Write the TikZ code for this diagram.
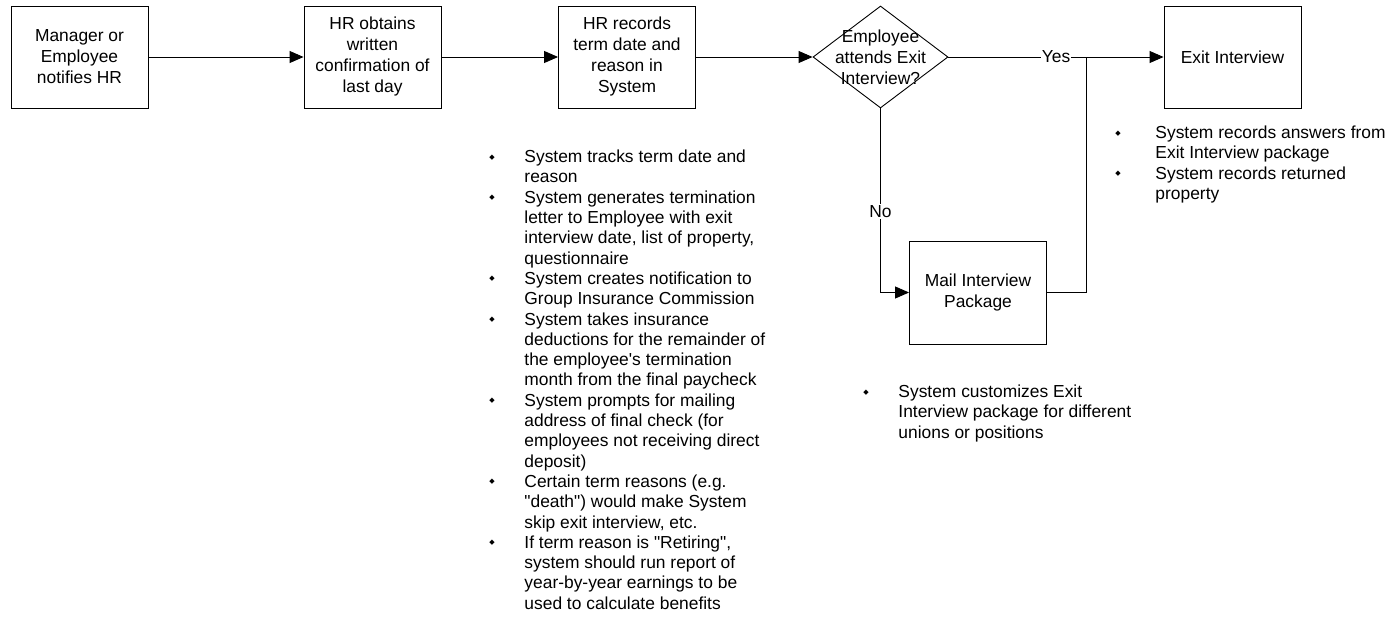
\documentclass[tikz,border=0pt]{standalone}
\usepackage{fontspec}
\setmainfont{Liberation Sans}
\newfontfamily\exitsymfont{DejaVu Sans}
\usetikzlibrary{arrows.meta,shapes.geometric}
\newcommand{\exitbullet}{\raisebox{3.5pt}{\exitsymfont\fontsize{7}{7}\selectfont ◆}}
\tikzset{
  exit flow/.style={
    x=1pt, y=-1pt, line width=0.9pt,
    >={Triangle[length=14pt,width=12pt]},
    every node/.style={font=\fontsize{17.4}{21}\selectfont}
  },
  exit step/.style={draw, minimum width=137pt, minimum height=102pt,
    align=center, inner sep=0pt},
  exit choice/.style={draw, diamond, minimum width=135pt,
    minimum height=102pt, inner sep=0pt},
  exit tag/.style={fill=white, inner sep=1pt},
  exit notes/.style={anchor=north west, inner sep=0pt,
    font=\fontsize{17.4}{20.3}\selectfont}
}

\begin{document}
\begin{tikzpicture}[exit flow]
    \useasboundingbox (0,0) rectangle (1389,626);
    % main line
    \node[exit step] (notify) at (79.5,57) {Manager or\\Employee\\notifies HR};
    \node[exit step] (obtain) at (372.5,57) {HR obtains\\written\\confirmation of\\last day};
    \node[exit step] (record) at (627,57) {HR records\\term date and\\reason in\\System};
    \node[exit choice, label={[align=center]center:Employee\\attends Exit\\Interview?}]
      (attend) at (880.5,57) {};
    \node[exit step] (interview) at (1232.5,57) {Exit Interview};
    \node[exit step, minimum height=103pt] (mail) at (978,292.5) {Mail Interview\\Package};
    \coordinate (join) at (1086,57);

    \draw[->] (notify) -- (obtain);
    \draw[->] (obtain) -- (record);
    \draw[->] (record) -- (attend);
    \draw[->] (attend) -- node[exit tag] {Yes} (interview);
    \draw[->] (attend) |- node[exit tag, pos=0.28] {No} (mail);
    \draw (mail) -| (join);

    % notes
    \node[exit notes] (recordNotes) at (489,148) {%
      \begin{tabular}{@{}p{35pt}@{}l@{}}
        \exitbullet & System tracks term date and\\
          & reason\\
        \exitbullet & System generates termination\\
          & letter to Employee with exit\\
          & interview date, list of property,\\
          & questionnaire\\
        \exitbullet & System creates notification to\\
          & Group Insurance Commission\\
        \exitbullet & System takes insurance\\
          & deductions for the remainder of\\
          & the employee\textquotesingle s termination\\
          & month from the final paycheck\\
        \exitbullet & System prompts for mailing\\
          & address of final check (for\\
          & employees not receiving direct\\
          & deposit)\\
        \exitbullet & Certain term reasons (e.g.\\
          & \textquotedbl death\textquotedbl) would make System\\
          & skip exit interview, etc.\\
        \exitbullet & If term reason is \textquotedbl Retiring\textquotedbl,\\
          & system should run report of\\
          & year-by-year earnings to be\\
          & used to calculate benefits
      \end{tabular}};
    \node[exit notes] (mailNotes) at (863,383) {%
      \begin{tabular}{@{}p{35pt}@{}l@{}}
        \exitbullet & System customizes Exit\\
          & Interview package for different\\
          & unions or positions
      \end{tabular}};
    \node[exit notes] (interviewNotes) at (1115,124) {%
      \begin{tabular}{@{}p{40pt}@{}l@{}}
        \exitbullet & System records answers from\\
          & Exit Interview package\\
        \exitbullet & System records returned\\
          & property
      \end{tabular}};
\end{tikzpicture}
\end{document}
